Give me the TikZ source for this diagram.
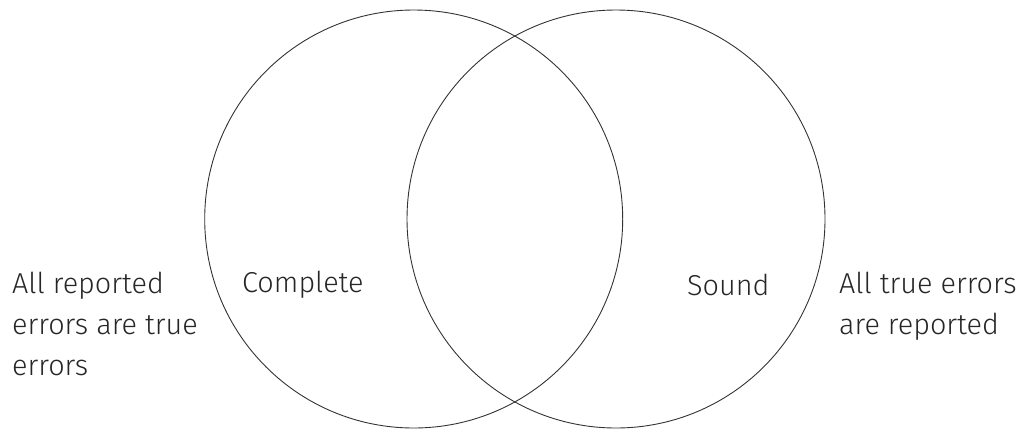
\documentclass[tikz,border=0pt]{standalone}
\usepackage{fontspec}
\setmainfont{Fira Sans}[UprightFont={* Light}]
\begin{document}
\begin{tikzpicture}[x=1pt,y=-1pt,
  ring/.style={draw=black!80, line width=0.9pt},
  label/.style={inner sep=0pt, font=\fontsize{28.8}{41}\selectfont, text=black!85, align=left}]
  \useasboundingbox (0,0) rectangle (1022,429);
  \node[ring, circle, minimum size=418, inner sep=0pt] (complete) at (413.7,219) {};
  \node[ring, circle, minimum size=418, inner sep=0pt] (sound) at (616,219) {};
  \node[label, anchor=base west] (ctext) at (242,292) {Complete};
  \node[label, anchor=base west] (stext) at (687,295) {Sound};
  % multi-line nodes: base anchor sits on the last line
  \node[label, anchor=base west] (left) at (12,375) {All reported\\errors are true\\errors};
  \node[label, anchor=base west] (right) at (839,334) {All true errors\\are reported};
\end{tikzpicture}
\end{document}
